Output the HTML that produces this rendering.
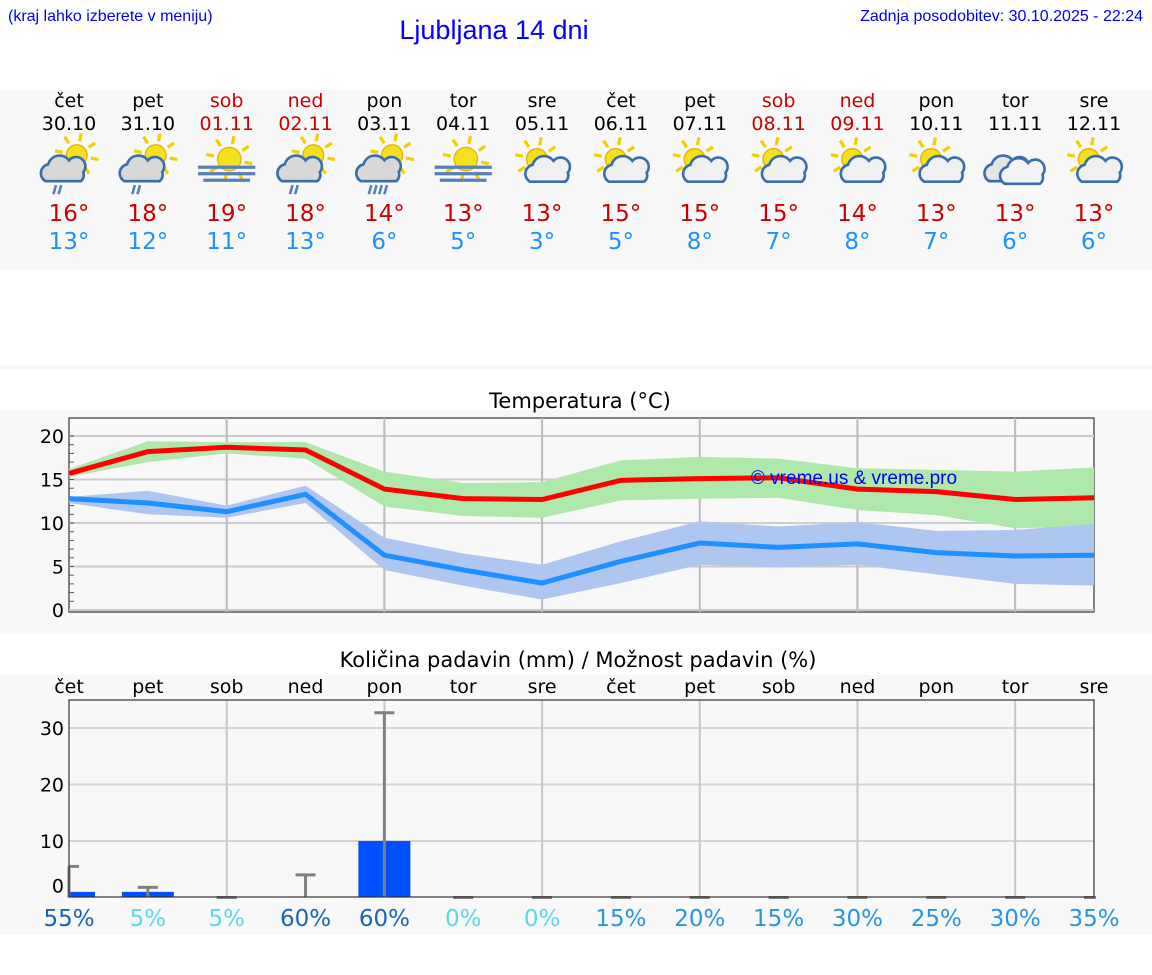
<!DOCTYPE html>
<html><head><meta charset="utf-8"><style>
body{margin:0;background:#fff;width:1152px;height:975px;overflow:hidden;font-family:"DejaVu Sans","Liberation Sans",sans-serif}
svg{display:block}
</style></head><body>
<svg id="s" width="1152" height="975" xmlns="http://www.w3.org/2000/svg">
<rect x="0" y="90" width="1152" height="180" fill="#f8f8f8"/>
<rect x="0" y="365" width="1152" height="4" fill="#f6f6f6"/>
<rect x="0" y="410" width="1152" height="224" fill="#f8f8f8"/>
<rect x="0" y="675" width="1152" height="260" fill="#f8f8f8"/>
<text x="8" y="21" font-family="Liberation Sans, sans-serif" font-size="16" fill="#0000ff">(kraj lahko izberete v meniju)</text>
<text x="494" y="39" text-anchor="middle" font-family="Liberation Sans, sans-serif" font-size="27" fill="#0000ff">Ljubljana 14 dni</text>
<text x="1143" y="21" text-anchor="end" font-family="Liberation Sans, sans-serif" font-size="16" fill="#0000ff">Zadnja posodobitev: 30.10.2025 - 22:24</text>
<text x="580" y="408" text-anchor="middle" font-size="21" fill="#000">Temperatura (°C)</text>
<text x="578" y="667" text-anchor="middle" font-size="21" fill="#000">Količina padavin (mm) / Možnost padavin (%)</text>
<g id="g"></g>
</svg>
<script>
const days=["čet","pet","sob","ned","pon","tor","sre","čet","pet","sob","ned","pon","tor","sre"];
const dates=["30.10","31.10","01.11","02.11","03.11","04.11","05.11","06.11","07.11","08.11","09.11","10.11","11.11","12.11"];
const weekend=[0,0,1,1,0,0,0,0,0,1,1,0,0,0];
const icons=["rain","rain","fog","rain","shower","fog","pc","pc","pc","pc","pc","pc","cloud","pc"];
const hiLabels=[16,18,19,18,14,13,13,15,15,15,14,13,13,13];
const loLabels=[13,12,11,13,6,5,3,5,8,7,8,7,6,6];
const tMax=[15.7,18.2,18.7,18.4,13.9,12.8,12.7,14.9,15.1,15.2,13.9,13.6,12.7,12.9];
const tMaxHi=[16.2,19.4,19.3,19.3,15.9,14.6,14.7,17.2,17.6,17.4,16.3,16.1,15.9,16.4];
const tMaxLo=[15.3,17.0,18.0,17.4,11.9,10.8,10.6,12.6,12.8,12.9,11.5,10.9,9.4,9.6];
const tMin=[12.8,12.3,11.3,13.3,6.3,4.6,3.1,5.6,7.7,7.2,7.6,6.6,6.2,6.3];
const tMinHi=[13.0,13.7,12.0,14.3,8.3,6.5,5.2,7.9,10.2,9.6,10.1,9.1,9.2,9.9];
const tMinLo=[12.3,11.0,10.6,12.3,4.6,2.8,1.2,3.1,5.2,4.9,5.2,4.1,3.0,2.8];
const tTicks=[0,5,10,15,20];
const precip=[1,1,0,0,10,0,0,0,0,0,0,0,0,0];
const precipMax=[5.5,1.8,0,4,32.7,0,0,0,0,0,0,0,0,0];
const pTicks=[0,10,20,30];
const chance=[55,5,5,60,60,0,0,15,20,15,30,25,30,35];

const NS="http://www.w3.org/2000/svg",G=document.getElementById('g');
function el(t,a,p){const e=document.createElementNS(NS,t);for(const k in a)e.setAttribute(k,a[k]);(p||G).appendChild(e);return e;}
const X0=69,X1=1094,n=days.length;
const xs=i=>X0+i*(X1-X0)/(n-1);
const ty=v=>610-v*8.7;
const py=v=>897.5-v*5.65;

days.forEach((d,i)=>{
 const c=weekend[i]?"#cc0000":"#000";
 let t=el('text',{x:xs(i),y:107,'text-anchor':'middle','font-size':19,fill:c});t.textContent=d;
 
 t=el('text',{x:xs(i),y:130,'text-anchor':'middle','font-size':19,fill:c});t.textContent=dates[i];
 
 t=el('text',{x:xs(i),y:221,'text-anchor':'middle','font-size':23,fill:"#cc0000"});t.textContent=hiLabels[i]+"°";
 
 t=el('text',{x:xs(i),y:249,'text-anchor':'middle','font-size':23,fill:"#1e90ff"});t.textContent=loLabels[i]+"°";
 
 const g=el('g',{transform:`translate(${xs(i)},163) scale(1.3)`});
 
 drawIcon(g,icons[i]);
});
function sun(g,x,y,r){
 for(let k=0;k<8;k++){const a=k*Math.PI/4+0.2;el('line',{x1:x+Math.cos(a)*(r+3),y1:y+Math.sin(a)*(r+3),x2:x+Math.cos(a)*(r+9),y2:y+Math.sin(a)*(r+9),stroke:'#f0d000','stroke-width':2.5},g);}
 el('circle',{cx:x,cy:y,r:r,fill:'#f5e020',stroke:'#e8b000','stroke-width':1},g);
}
function cloud(g,x,y,s,fill){
 el('path',{d:`M${x-14*s},${y+8*s} a7 7 0 0 1 2,-13 a9 9 0 0 1 16,-3 a7 7 0 0 1 11,9 a6 6 0 0 1 -2,7 z`,fill:fill||'#d8d8d8',stroke:'#3a6ea8','stroke-width':2},g);
}
function drawIcon(g,t){
 if(t==="fog"){sun(g,2,-3,9);[2,7,12].forEach((d,k)=>el('rect',{x:-22+(k==2?4:0),y:d,width:k==2?36:44,height:2.5,fill:'#5a7fb8'},g));return;}
 if(t==="cloud"){cloud(g,-6,6,1,'#e4e4e4');cloud(g,6,8,1,'#f2f2f2');return;}
 if(t==="pc"){sun(g,-4,-3,8);cloud(g,2,8,0.8,'#f0f0f0');return;}
 sun(g,6,-6,8);cloud(g,-4,6,1,'#d8d8d8');
 const m=t==="shower"?4:2;
 for(let k=0;k<m;k++)el('line',{x1:-12+k*4,y1:24,x2:-10+k*4,y2:17,stroke:'#5a7fb8','stroke-width':2},g);
}

el('rect',{x:X0,y:418,width:X1-X0,height:194,fill:'none',stroke:'#333','stroke-width':1.2});
tTicks.forEach(v=>{
 const l=el('line',{x1:X0,x2:X1,y1:ty(v),y2:ty(v),stroke:'#ccc','stroke-width':2});
 
 const t=el('text',{x:X0-5,y:ty(v)+7,'text-anchor':'end','font-size':19});t.textContent=v;
 
});
for(let v=1;v<=20;v++){el('line',{x1:X0,x2:X0+5,y1:ty(v),y2:ty(v),stroke:'#555','stroke-width':1});}
for(let i=2;i<n-1;i+=2){const l=el('line',{x1:xs(i),x2:xs(i),y1:418,y2:612,stroke:'#bbb','stroke-width':2});}
function band(hi,lo,c,name){
 let d="M"+hi.map((v,i)=>xs(i)+","+ty(v)).join(" L")+" L"+lo.map((v,i)=>xs(i)+","+ty(v)).reverse().join(" L")+"Z";
 const p=el('path',{d,fill:c});
}
function line(a,c,name){
 const p=el('polyline',{points:a.map((v,i)=>xs(i)+","+ty(v)).join(" "),fill:'none',stroke:c,'stroke-width':5});
 
}
band(tMaxHi,tMaxLo,'#aee8aa','max-temp-range');
band(tMinHi,tMinLo,'#aec6f0','min-temp-range');
line(tMax,'#ff0000','max-temp-line');
line(tMin,'#1e90ff','min-temp-line');
let wm=el('text',{x:854,y:484,'text-anchor':'middle','font-size':19,'font-family':'Liberation Sans, sans-serif',fill:'#0000ff'});wm.textContent="© vreme.us & vreme.pro";


days.forEach((d,i)=>{const t=el('text',{x:xs(i),y:693,'text-anchor':'middle','font-size':19});t.textContent=d;
 });
pTicks.forEach(v=>{
 if(v>0){const l=el('line',{x1:X0,x2:X1,y1:py(v),y2:py(v),stroke:'#d4d4d4','stroke-width':2});}
 const t=el('text',{x:X0-5,y:py(v)+(v?7:-5),'text-anchor':'end','font-size':19});t.textContent=v;
 
});
for(let i=2;i<n-1;i+=2){const l=el('line',{x1:xs(i),x2:xs(i),y1:700,y2:897,stroke:'#c8c8c8','stroke-width':2});}
precip.forEach((v,i)=>{
 if(v<=0)return;
 let x=xs(i)-26,w=52;if(x<X0){w-=X0-x;x=X0;}
 const r=el('rect',{x,y:py(v),width:w,height:py(0)-py(v),fill:'#0050ff'});
 
});
precipMax.forEach((v,i)=>{
 const x=xs(i),y=py(v);
 const g=el('g',{});
 el('line',{x1:x,x2:x,y1:y,y2:py(0),stroke:'#808080','stroke-width':3},g);
 el('line',{x1:Math.max(x-10,X0),x2:Math.min(x+10,X1+2),y1:y,y2:y,stroke:'#808080','stroke-width':3},g);
});
el('rect',{x:X0,y:700,width:X1-X0,height:197,fill:'none',stroke:'#333','stroke-width':1.2});
chance.forEach((v,i)=>{
 const c=v>=50?'#1a64b4':v<=5?'#5cd8ea':'#2a94dc';
 const t=el('text',{x:xs(i),y:926,'text-anchor':'middle','font-size':23,fill:c});t.textContent=v+"%";
 
});
</script>
</body></html>
